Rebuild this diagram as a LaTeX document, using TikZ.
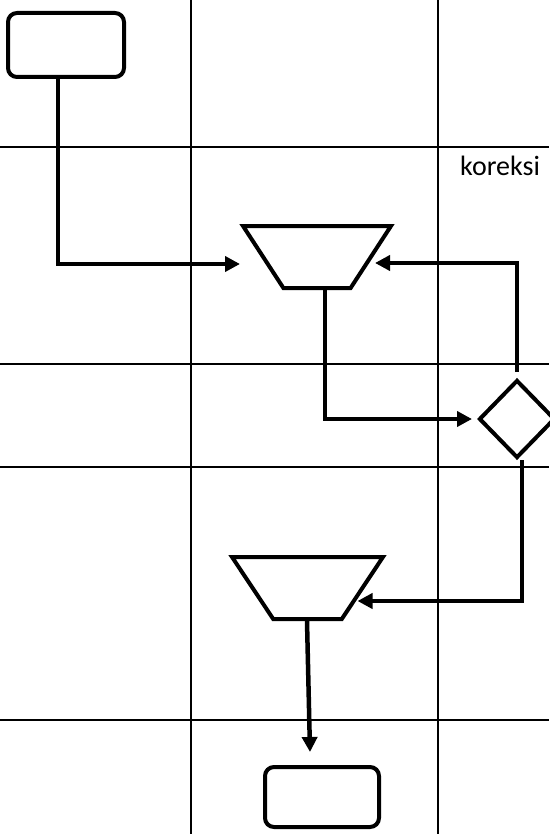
\documentclass[tikz,border=0pt]{standalone}
\usepackage{fontspec}
\setmainfont{Carlito}
\usetikzlibrary{shapes.geometric,arrows.meta}
\begin{document}
\begin{tikzpicture}[x=1pt,y=-1pt,
  grid/.style={line width=2.2pt},
  term/.style={draw,line width=4pt,rounded corners=9pt,minimum width=116pt,minimum height=64pt,inner sep=0pt},
  merge/.style={draw,line width=4pt,trapezium,shape border rotate=180,trapezium stretches=true,trapezium angle=59,minimum width=148pt,minimum height=62pt,inner sep=1pt},
  decision/.style={draw,line width=4pt,diamond,minimum width=76pt,minimum height=78pt,inner sep=1pt},
  conn/.style={line width=4.5pt,-{Triangle[length=15pt,width=15pt]}},
  plain/.style={line width=4.5pt}]
\useasboundingbox (0,0) rectangle (549,834);
% grid
\draw[grid] (191,0) -- (191,834);
\draw[grid] (438,0) -- (438,834);
\draw[grid] (0,147) -- (549,147);
\draw[grid] (0,364) -- (549,364);
\draw[grid] (0,467) -- (549,467);
\draw[grid] (0,720) -- (549,720);
% nodes
\node[term] (r1) at (66,45) {};
\node[merge] (t1) at (317,257) {};
\node[decision] (d) at (517,419) {};
\node[merge,minimum width=151pt] (t2) at (307.5,588) {};
\node[term,minimum width=114pt,minimum height=60pt] (r2) at (322,797) {};
\node[anchor=base west,inner sep=0pt,font=\fontsize{28}{32}\selectfont] (k) at (460,176) {koreksi};
% connectors
\draw[conn] ([xshift=-8pt]r1.south) |- ([xshift=-77pt,yshift=-7pt]t1.center);
\draw[conn] ([yshift=6pt]d.north) |- ([xshift=58pt,yshift=-6pt]t1.center);
\draw[conn] ([xshift=8pt]t1.south) |- ([xshift=-5pt]d.west);
\draw[conn] ([xshift=5pt]d.south) |- ([xshift=50pt,yshift=-13pt]t2.center);
\draw[conn] ([xshift=-0.5pt]t2.south) -- ([xshift=-12pt,yshift=13pt]r2.north);
\end{tikzpicture}
\end{document}
